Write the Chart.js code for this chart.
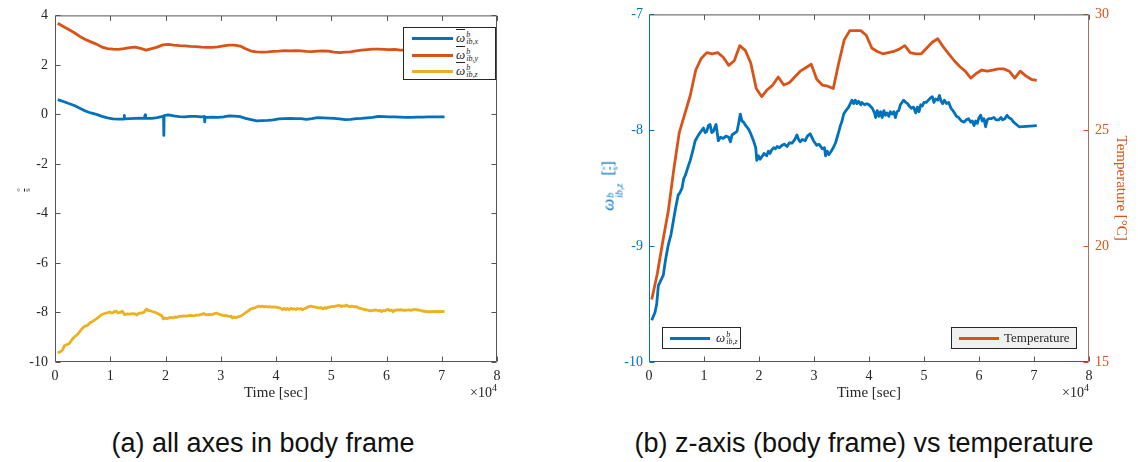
<!DOCTYPE html>
<html>
<head>
<meta charset="utf-8">
<script src="https://cdn.jsdelivr.net/npm/chart.js@4.4.1/dist/chart.umd.min.js"></script>
<style>
  body { margin: 0; background: #fff; width: 1138px; height: 462px; position: relative; overflow: hidden; font-family: "Liberation Serif", serif; }
  .panel { position: absolute; top: 0; height: 410px; }
  .leg { position: absolute; border: 1px solid #262626; box-sizing: border-box; background: #fff; }
  .row { position: absolute; height: 16px; display: flex; align-items: center; color: #262626; }
  .sw { height: 3px; margin-right: 3px; }
  .om { font-style: italic; font-size: 13px; }
  .ovl { text-decoration: overline; }
  .ss { display: inline-flex; flex-direction: column; font-style: italic; font-size: 8px; line-height: 7px; margin-left: 1px; }
  .frac { display: inline-flex; flex-direction: column; align-items: center; font-size: 7px; line-height: 6px; vertical-align: middle; }
  .frac span + span { border-top: 1px solid currentColor; }
  .ylab { position: absolute; transform: translate(-50%, -50%) rotate(-90deg); white-space: nowrap; }
  .cap { position: absolute; top: 431px; line-height: 24px; font-family: "Liberation Sans", Arial, sans-serif; font-size: 27px; color: #111; text-align: center; }
</style>
</head>
<body>

<div class="panel" style="left:0;width:520px"><canvas id="bodyAxes" width="520" height="410"></canvas></div>
<div class="panel" style="left:570px;width:568px"><canvas id="zTemp" width="568" height="410"></canvas></div>

<!-- left panel: unit label and legend -->
<div class="ylab" style="left:23px;top:190px;color:#262626"><span class="frac" style="font-size:8px"><span>°</span><span>s</span></span></div>
<div class="leg" style="left:403px;top:27px;width:93px;height:53px">
  <div class="row" style="left:8px;top:2px"><div class="sw" style="width:41px;background:#0072BD"></div><span class="om ovl">ω</span><span class="ss"><span>b</span><span>ib,x</span></span></div>
  <div class="row" style="left:8px;top:19px"><div class="sw" style="width:41px;background:#D95319"></div><span class="om ovl">ω</span><span class="ss"><span>b</span><span>ib,y</span></span></div>
  <div class="row" style="left:8px;top:35px"><div class="sw" style="width:41px;background:#EDB120"></div><span class="om ovl">ω</span><span class="ss"><span>b</span><span>ib,z</span></span></div>
</div>

<!-- right panel: left axis label and the two legends -->
<div class="ylab" style="left:611px;top:186px;color:#0072BD;font-size:16px"><span class="om" style="font-size:17px">ω</span><span class="ss" style="font-size:10px;line-height:9px"><span>b</span><span>ib,z</span></span>&nbsp;&nbsp;[<span class="frac" style="font-size:9px;line-height:8px"><span>°</span><span>s</span></span>]</div>
<div class="leg" style="left:662px;top:327px;width:79px;height:22px">
  <div class="row" style="left:7px;top:2px"><div class="sw" style="width:40px;background:#0072BD"></div><span class="om" style="margin-left:3px">ω</span><span class="ss"><span>b</span><span>ib,z</span></span></div>
</div>
<div class="leg" style="left:951px;top:327px;width:126px;height:22px;background:#f0f0f0">
  <div class="row" style="left:7px;top:2px;font-size:13px"><div class="sw" style="width:40px;background:#D95319"></div><span style="margin-left:2px">Temperature</span></div>
</div>

<div class="cap" style="left:0;width:526px">(a) all axes in body frame</div>
<div class="cap" style="left:578px;width:572px">(b) z-axis (body frame) vs temperature</div>

<script>
// sample times [s]
const timeSec = [
  500, 1500, 2500, 3500, 4500, 5500, 6500, 7500, 8500, 9500,
  10500, 11500, 12500, 13500, 14500, 15500, 16500, 17500, 18500, 19500,
  20500, 21500, 22500, 23500, 24500, 25500, 26500, 27500, 28500, 29500,
  30500, 31500, 32500, 33500, 34500, 35500, 36500, 37500, 38500, 39500,
  40500, 41500, 42500, 43500, 44500, 45500, 46500, 47500, 48500, 49500,
  50500, 51500, 52500, 53500, 54500, 55500, 56500, 57500, 58500, 59500,
  60500, 61500, 62500, 63500, 64500, 65500, 66500, 67500, 68500, 69500,
  70500
];

// mean angular rates [deg/s]
const omegaX = [
  0.60, 0.52, 0.44, 0.36, 0.25, 0.14, 0.06, 0.00, -0.08, -0.14,
  -0.18, -0.19, -0.18, -0.17, -0.16, -0.15, -0.16, -0.16, -0.13, -0.08,
  -0.02, -0.06, -0.09, -0.10, -0.08, -0.08, -0.10, -0.12, -0.11, -0.12,
  -0.10, -0.06, -0.07, -0.09, -0.16, -0.21, -0.26, -0.25, -0.24, -0.22,
  -0.18, -0.17, -0.16, -0.17, -0.17, -0.20, -0.17, -0.13, -0.14, -0.15,
  -0.16, -0.18, -0.21, -0.20, -0.17, -0.16, -0.14, -0.12, -0.08, -0.09,
  -0.10, -0.10, -0.11, -0.12, -0.12, -0.11, -0.11, -0.10, -0.10, -0.10,
  -0.10
];
// short glitches in the x channel
const spikeTime = [12400, 12500, 12600, 16200, 16300, 16400, 19650, 19700, 19750, 27050, 27100, 27150];
const spikeX = [-0.19, -0.04, -0.18, -0.16, -0.02, -0.16, -0.10, -0.85, -0.05, -0.09, -0.30, -0.12];

const omegaY = [
  3.68, 3.55, 3.43, 3.30, 3.15, 3.03, 2.93, 2.84, 2.72, 2.66,
  2.64, 2.63, 2.66, 2.70, 2.72, 2.67, 2.60, 2.66, 2.72, 2.81,
  2.83, 2.80, 2.78, 2.77, 2.75, 2.74, 2.72, 2.71, 2.71, 2.73,
  2.77, 2.80, 2.80, 2.76, 2.65, 2.56, 2.53, 2.52, 2.53, 2.55,
  2.56, 2.58, 2.57, 2.58, 2.57, 2.55, 2.54, 2.56, 2.57, 2.56,
  2.52, 2.50, 2.52, 2.53, 2.57, 2.60, 2.62, 2.64, 2.64, 2.63,
  2.62, 2.63, 2.60, 2.60, 2.61, 2.60, 2.61, 2.60, 2.61, 2.60,
  2.60
];

// z channel is logged on its own, denser time base
const zTime = [
  500, 1100, 1400, 1700, 2100, 2600, 3000, 3500, 4000, 4400,
  4800, 5300, 5600, 6000, 6300, 6600, 7000, 7500, 8000, 8400,
  9000, 9900, 10200, 10500, 10800, 11100, 11400, 11700, 12000, 12200,
  12600, 13000, 13500, 14000, 14500, 14800, 15100, 15400, 16000, 16300,
  16600, 16900, 17200, 17600, 18100, 18500, 19000, 19400, 19600, 19900,
  20200, 20500, 20900, 21400, 21700, 22000, 22300, 22700, 23000, 23300,
  23700, 24200, 24600, 25100, 25500, 26000, 26500, 26900, 27200, 27500,
  27900, 28400, 28800, 29300, 29600, 29900, 30500, 30900, 31500, 31900,
  32100, 32400, 32700, 33000, 33400, 33900, 34400, 34800, 35100, 35400,
  35800, 36300, 36600, 36900, 37200, 37500, 37800, 38100, 38500, 38700,
  39200, 39600, 40000, 40600, 41000, 41200, 41500, 41800, 42100, 42400,
  42700, 43000, 43300, 43600, 43900, 44200, 44500, 44800, 45100, 45400,
  45700, 46000, 46300, 46700, 47000, 47300, 47700, 48100, 48500, 48800,
  49100, 49400, 49700, 50000, 50400, 50800, 51200, 51500, 51800, 52100,
  52500, 52800, 53100, 53400, 53700, 54100, 54500, 54900, 55400, 55900,
  56300, 56800, 57300, 57700, 58100, 58500, 58800, 59100, 59400, 59700,
  60000, 60300, 60600, 60900, 61200, 61500, 61800, 62200, 62700, 63100,
  63600, 64000, 64300, 64700, 65100, 65400, 65800, 66300, 66800, 67300,
  70500
];
const omegaZ = [
  -9.64, -9.57, -9.50, -9.34, -9.30, -9.25, -9.12, -8.99, -8.90, -8.79,
  -8.68, -8.56, -8.54, -8.50, -8.42, -8.39, -8.33, -8.26, -8.17, -8.09,
  -8.04, -7.98, -8.02, -8.01, -7.96, -7.95, -8.02, -8.01, -7.97, -7.95,
  -8.09, -8.06, -8.07, -8.05, -8.06, -8.10, -8.04, -8.03, -8.01, -7.94,
  -7.86, -7.92, -7.93, -7.96, -7.99, -8.03, -8.09, -8.15, -8.26, -8.22,
  -8.25, -8.23, -8.20, -8.22, -8.18, -8.20, -8.17, -8.15, -8.16, -8.14,
  -8.15, -8.13, -8.12, -8.14, -8.11, -8.11, -8.08, -8.04, -8.08, -8.10,
  -8.08, -8.09, -8.05, -8.03, -8.06, -8.09, -8.13, -8.12, -8.16, -8.15,
  -8.22, -8.18, -8.21, -8.19, -8.16, -8.11, -8.03, -7.96, -7.92, -7.86,
  -7.83, -7.80, -7.77, -7.74, -7.77, -7.74, -7.77, -7.75, -7.78, -7.76,
  -7.78, -7.77, -7.78, -7.81, -7.85, -7.89, -7.83, -7.88, -7.84, -7.89,
  -7.83, -7.87, -7.85, -7.88, -7.84, -7.86, -7.84, -7.89, -7.84, -7.83,
  -7.78, -7.76, -7.74, -7.76, -7.77, -7.79, -7.81, -7.80, -7.85, -7.80,
  -7.84, -7.78, -7.79, -7.76, -7.76, -7.74, -7.72, -7.71, -7.76, -7.73,
  -7.74, -7.70, -7.75, -7.77, -7.74, -7.77, -7.76, -7.81, -7.84, -7.88,
  -7.89, -7.92, -7.93, -7.91, -7.90, -7.93, -7.92, -7.96, -7.92, -7.94,
  -7.89, -7.87, -7.92, -7.90, -7.97, -7.91, -7.90, -7.90, -7.89, -7.91,
  -7.91, -7.89, -7.91, -7.90, -7.87, -7.89, -7.90, -7.93, -7.95, -7.97,
  -7.96
];

// sensor temperature [deg C]
const temperature = [
  17.7, 18.8, 20.2, 21.5, 23.3, 24.9, 25.7, 26.5, 27.6, 28.1,
  28.35, 28.3, 28.35, 28.15, 27.8, 28.0, 28.65, 28.45, 27.9, 26.8,
  26.45, 26.75, 26.95, 27.3, 26.95, 27.05, 27.3, 27.55, 27.7, 27.85,
  27.2, 26.95, 26.9, 26.8, 27.9, 28.9, 29.3, 29.3, 29.3, 29.1,
  28.55, 28.4, 28.3, 28.35, 28.4, 28.5, 28.65, 28.35, 28.3, 28.3,
  28.55, 28.8, 28.95, 28.6, 28.3, 28.0, 27.75, 27.55, 27.25, 27.45,
  27.6, 27.55, 27.6, 27.65, 27.65, 27.55, 27.25, 27.55, 27.35, 27.2,
  27.15
];

const BLUE = '#0072BD', ORANGE = '#D95319', YELLOW = '#EDB120';
const INK = '#262626', FRAME = '#555555', RIGHT_FRAME = '#a5705f';
const SERIF = '"Liberation Serif", "Times New Roman", serif';

const pairs = (t, v) => t.map((x, i) => ({ x, y: v[i] }));
const xPoints = pairs(timeSec, omegaX).concat(pairs(spikeTime, spikeX)).sort((a, b) => a.x - b.x);

const line = (data, color, axis) => ({
  data, borderColor: color, borderWidth: 2.8, borderJoinStyle: 'round', pointRadius: 0, tension: 0,
  fill: false, yAxisID: axis || 'y'
});

// inward tick marks on all four sides plus the axes box, MATLAB style
const frameTicks = {
  id: 'frameTicks',
  afterDraw(chart, args, opts) {
    const { ctx, chartArea: a } = chart;
    const len = 5;
    const L = a.left + 0.5, R = a.right - 0.5, T = a.top + 0.5, B = a.bottom - 0.5;
    const seg = (x1, y1, x2, y2, c) => {
      ctx.strokeStyle = c; ctx.beginPath(); ctx.moveTo(x1, y1); ctx.lineTo(x2, y2); ctx.stroke();
    };
    ctx.save();
    ctx.lineWidth = 1;
    const xs = chart.scales.x;
    xs.ticks.forEach(t => {
      const px = Math.round(xs.getPixelForValue(t.value)) + 0.5;
      seg(px, B, px, B - len, FRAME);
      seg(px, T, px, T + len, FRAME);
    });
    const side = (s, x, dir) => {
      const sc = chart.scales[s.axis];
      sc.ticks.forEach(t => {
        const py = Math.round(sc.getPixelForValue(t.value)) + 0.5;
        seg(x, py, x + dir * len, py, s.tick);
      });
    };
    side(opts.left, L, 1);
    side(opts.right, R, -1);
    seg(L, T, R, T, FRAME);
    seg(L, B, R, B, FRAME);
    seg(L, T, L, B, opts.left.line);
    seg(R, T, R, B, opts.right.line);

    // x10^4 exponent under the right end of the time axis
    const y = xs.bottom - 9;
    ctx.fillStyle = INK;
    ctx.textBaseline = 'middle';
    ctx.textAlign = 'right';
    ctx.font = '10px ' + SERIF;
    ctx.fillText('4', a.right, y - 5);
    const w = ctx.measureText('4').width;
    ctx.font = '14px ' + SERIF;
    ctx.fillText('×10', a.right - w, y);
    ctx.restore();
  }
};

const timeAxis = {
  type: 'linear', min: 0, max: 80000,
  grid: { display: false, drawTicks: false },
  border: { display: false },
  ticks: { stepSize: 10000, padding: 6, color: INK, font: { family: SERIF, size: 14 }, callback: v => v / 10000 },
  title: { display: true, text: 'Time [sec]', color: INK, padding: 0, font: { family: SERIF, size: 15 } },
  afterFit: s => { s.height = 40; }
};

new Chart(document.getElementById('bodyAxes'), {
  type: 'line',
  plugins: [frameTicks],
  data: {
    datasets: [
      line(xPoints, BLUE),
      line(pairs(timeSec, omegaY), ORANGE),
      line(pairs(zTime, omegaZ), YELLOW)
    ]
  },
  options: {
    responsive: false, animation: false,
    layout: { padding: { left: 0, right: 23, top: 14, bottom: 8 } },
    plugins: {
      legend: { display: false }, tooltip: { enabled: false },
      frameTicks: { left: { axis: 'y', tick: FRAME, line: FRAME }, right: { axis: 'y', tick: FRAME, line: FRAME } }
    },
    scales: {
      x: timeAxis,
      y: {
        min: -10, max: 4,
        grid: { display: false, drawTicks: false },
        border: { display: false },
        ticks: { stepSize: 2, padding: 7, color: INK, font: { family: SERIF, size: 14 } },
        afterFit: s => { s.width = 55; }
      }
    }
  }
});

new Chart(document.getElementById('zTemp'), {
  type: 'line',
  plugins: [frameTicks],
  data: {
    datasets: [
      line(pairs(zTime, omegaZ), BLUE, 'y'),
      line(pairs(timeSec, temperature), ORANGE, 'y1')
    ]
  },
  options: {
    responsive: false, animation: false,
    layout: { padding: { left: 34, right: 8, top: 14, bottom: 8 } },
    plugins: {
      legend: { display: false }, tooltip: { enabled: false },
      frameTicks: { left: { axis: 'y', tick: BLUE, line: BLUE }, right: { axis: 'y1', tick: ORANGE, line: RIGHT_FRAME } }
    },
    scales: {
      x: timeAxis,
      y: {
        position: 'left', min: -10, max: -7,
        grid: { display: false, drawTicks: false },
        border: { display: false },
        ticks: { stepSize: 1, padding: 6, color: BLUE, font: { family: SERIF, size: 14 } },
        afterFit: s => { s.width = 45; }
      },
      y1: {
        position: 'right', min: 15, max: 30,
        grid: { display: false, drawTicks: false },
        border: { display: false },
        ticks: { stepSize: 5, padding: 6, color: ORANGE, font: { family: SERIF, size: 14 } },
        title: { display: true, text: 'Temperature [°C]', color: ORANGE, padding: 0, font: { family: SERIF, size: 15 } },
        afterFit: s => { s.width = 41; }
      }
    }
  }
});
</script>
</body>
</html>
